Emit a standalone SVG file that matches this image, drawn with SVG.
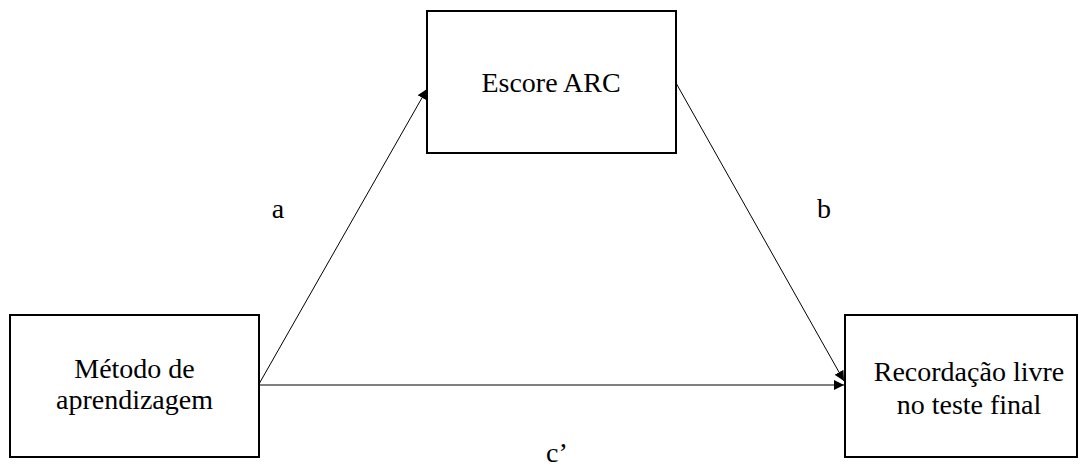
<svg xmlns="http://www.w3.org/2000/svg" width="1084" height="470" viewBox="0 0 1084 470">
<style>
.box{fill:#fff;stroke:#000;stroke-width:2}
.t{font-family:'Liberation Serif','Times New Roman','DejaVu Serif',serif;font-size:28px;fill:#000;text-anchor:middle}
.conn{stroke:#000;stroke-width:1;fill:none;marker-end:url(#ah)}
</style>
<defs>
<marker id="ah" viewBox="0 0 10 10" refX="10" refY="5" markerWidth="10" markerHeight="10" markerUnits="userSpaceOnUse" orient="auto">
<path d="M0,0 L10,5 L0,10 z" fill="#000"/>
</marker>
</defs>
<rect width="1084" height="470" fill="#fff"/>
<g id="connectors">
<line class="conn" x1="259" y1="384" x2="427" y2="89"/>
<line class="conn" x1="676" y1="83" x2="844" y2="381"/>
<line class="conn" x1="259" y1="385" x2="844" y2="385"/>
</g>
<g font-family="Liberation Serif, serif">
<g id="node-escore">
<rect class="box" x="427" y="11" width="249" height="142"/>
<text class="t" x="551" y="92">Escore ARC</text>
</g>
<g id="node-metodo">
<rect class="box" x="10" y="315" width="249" height="142"/>
<text class="t" x="134.5" y="378">Método de</text>
<text class="t" x="134.5" y="409">aprendizagem</text>
</g>
<g id="node-recordacao">
<rect class="box" x="845" y="315" width="232" height="142"/>
<text class="t" x="969" y="381">Recordação livre</text>
<text class="t" x="969" y="414">no teste final</text>
</g>
<g id="labels">
<text class="t" x="278" y="218">a</text>
<text class="t" x="824" y="218">b</text>
<text class="t" x="557" y="462">c’</text>
</g>
</g>
</svg>
